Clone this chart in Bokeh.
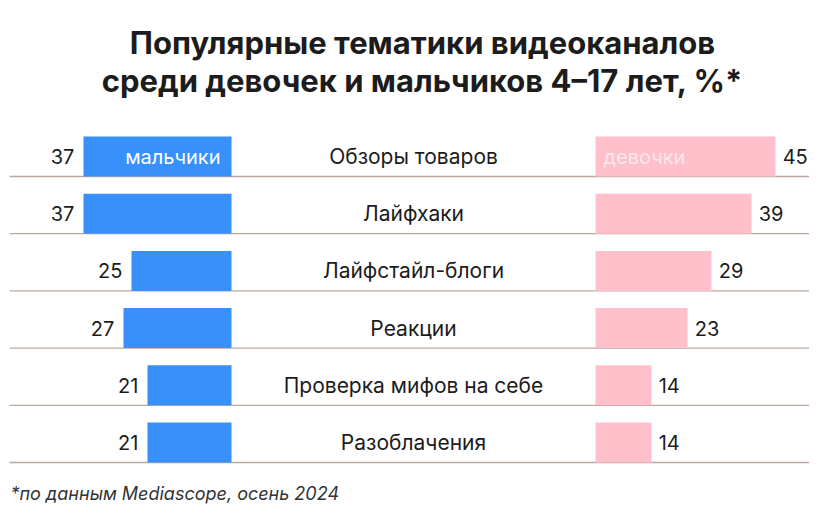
from bokeh.plotting import figure
from bokeh.models import Range1d, ColumnDataSource
from bokeh.core.properties import value
from bokeh.embed import file_html
from bokeh.resources import INLINE

categories = ["Обзоры товаров", "Лайфхаки", "Лайфстайл-блоги", "Реакции",
              "Проверка мифов на себе", "Разоблачения"]
boys = [37, 37, 25, 27, 21, 21]
girls = [45, 39, 29, 23, 14, 14]
title_lines = ["Популярные тематики видеоканалов",
               "среди девочек и мальчиков 4–17 лет, %*"]
note = "*по данным Mediascope, осень 2024"

FONT = "Inter"
BLUE = "#3891fa"
PINK = "#ffc0cb"
LINE = "#bba79f"
DARK = "#1c1c1c"

W, H = 809, 510
# x in value units (1 unit = 4 px); boys bars end at 0, girls bars start at G0
G0 = 91
x0 = -231 / 4
p = figure(width=W, height=H, output_backend="svg", toolbar_location=None,
           x_range=Range1d(x0, x0 + W / 4), y_range=Range1d(H, 0),
           min_border=0)
p.axis.visible = False
p.grid.visible = False
p.outline_line_color = None

pitch = 57.2
yc = [156 + pitch * i for i in range(len(categories))]

src = ColumnDataSource(dict(
    y=yc, cat=categories,
    bl=[-b for b in boys], gl=[G0] * len(girls), gr=[G0 + g for g in girls],
    zero=[0] * len(boys),
    bt=[str(b) for b in boys], gt=[str(g) for g in girls],
    blab=[-b - 2.3 for b in boys], glab=[G0 + g + 1.8 for g in girls],
    sep=[y + 20 for y in yc],
))

# separators
p.segment(x0=x0 + 9 / 4, x1=x0 + 817 / 4, y0="sep", y1="sep", source=src,
          line_color=LINE, line_width=1.3)

p.hbar(y="y", left="bl", right="zero", height=40, source=src,
       fill_color=BLUE, line_color=None)
p.hbar(y="y", left="gl", right="gr", height=40, source=src,
       fill_color=PINK, line_color=None)

p.text(x="blab", y="y", text="bt", source=src, text_align="right",
       text_baseline="middle", text_font=value(FONT), text_font_size="20px",
       text_color=DARK)
p.text(x="glab", y="y", text="gt", source=src, text_align="left",
       text_baseline="middle", text_font=value(FONT), text_font_size="20px",
       text_color=DARK)
p.text(x=45.5, y="y", text="cat", source=src, text_align="center",
       text_baseline="middle", text_font=value(FONT), text_font_size="21px",
       text_color=DARK)

# legend-like labels inside first bars
p.text(x=[-11 / 4], y=[yc[0]], text=["мальчики"], text_align="right",
       text_baseline="middle", text_font=value(FONT), text_font_size="20px",
       text_color="white")
p.text(x=[G0 + 8 / 4], y=[yc[0]], text=["девочки"], text_align="left",
       text_baseline="middle", text_font=value(FONT), text_font_size="20px",
       text_color="#fde6ea")

# title
p.text(x=[x0 + 422 / 4] * 2, y=[42, 80], text=title_lines,
       text_align="center", text_baseline="middle", text_font=value(FONT),
       text_font_size="31px", text_font_style="bold", text_color=DARK)

# footnote
p.text(x=[x0 + 10 / 4], y=[493], text=[note], text_align="left",
       text_baseline="middle", text_font=value(FONT), text_font_size="18px",
       text_font_style="italic", text_color="#333333")

open("out.html", "w").write(file_html(p, INLINE))
